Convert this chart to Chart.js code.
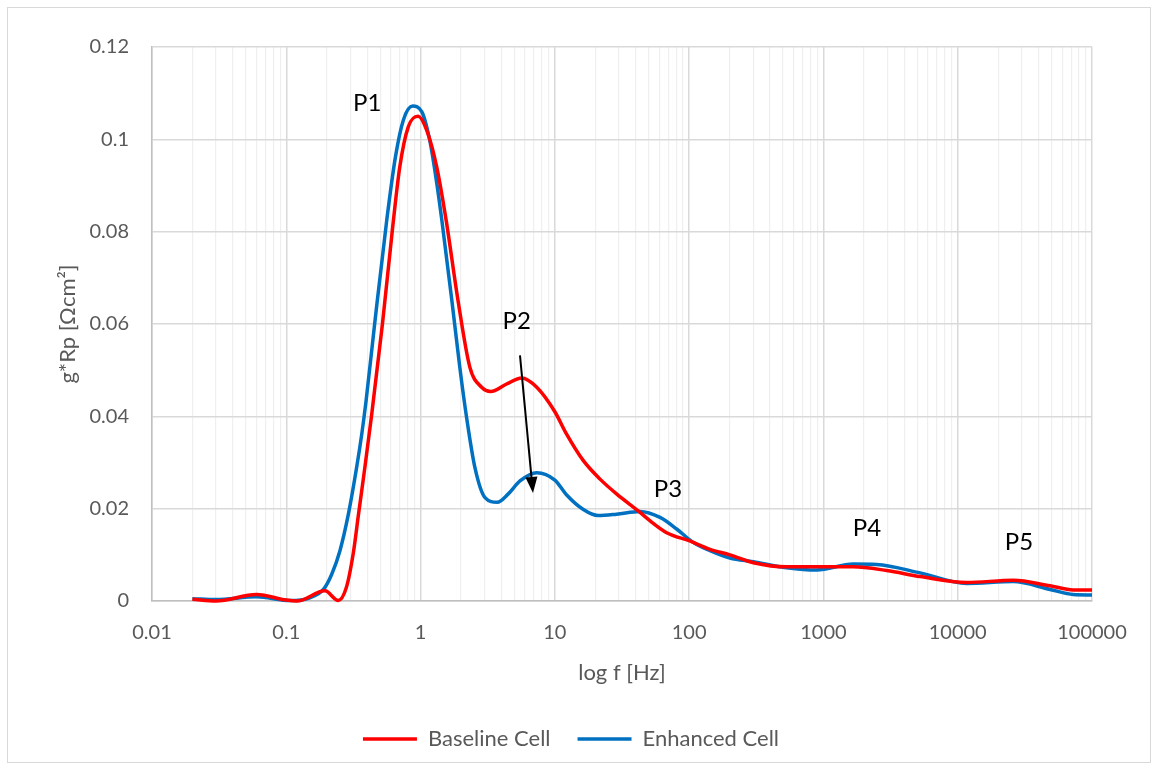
<!DOCTYPE html>
<html>
<head>
<meta charset="utf-8">
<script src="https://cdn.jsdelivr.net/npm/chart.js@4.4.0/dist/chart.umd.min.js"></script>
<style>
  html, body { margin: 0; padding: 0; background: #fff; }
  #wrap { position: relative; width: 1158px; height: 769px; }
  #frame { position: absolute; left: 7px; top: 7px; width: 1142px; height: 754px; border: 1px solid #d9d9d9; pointer-events: none; }
</style>
</head>
<body>
<div id="wrap">
  <canvas id="myChart" width="1158" height="769"></canvas>
  <div id="frame"></div>
</div>
<script>
// frequencies [Hz] and g*Rp values [Ohm cm2]
const baselineFreq = [0.02, 0.03, 0.06, 0.1, 0.12, 0.194, 0.244, 0.28, 0.316, 0.344, 0.385, 0.433, 0.52, 0.62, 0.70, 0.81, 0.96, 1.11, 1.32, 1.55, 1.9, 2.33, 2.85, 3.33, 4.37, 5.66, 7.33, 10, 12.2, 16.3, 21.7, 28.8, 41.8, 51, 68, 101, 143, 201, 301, 532, 1667, 2958, 5250, 11640, 25880, 48640, 72440, 100000]
const baseline = [0.0004, 0.0000, 0.0014, 0.0002, 0.0000, 0.0022, 0.0001, 0.0029, 0.0105, 0.0185, 0.0290, 0.0405, 0.0600, 0.0810, 0.0940, 0.1027, 0.1050, 0.1020, 0.0940, 0.0825, 0.0651, 0.0506, 0.0463, 0.0454, 0.0470, 0.0483, 0.0463, 0.0410, 0.0362, 0.0304, 0.0264, 0.0232, 0.0195, 0.0174, 0.0148, 0.0130, 0.0112, 0.0100, 0.0083, 0.0074, 0.0074, 0.0066, 0.0053, 0.0040, 0.0045, 0.0033, 0.0024, 0.0024]

const enhancedFreq = [0.02, 0.03, 0.06, 0.107, 0.15, 0.189, 0.218, 0.251, 0.29, 0.334, 0.365, 0.393, 0.455, 0.56, 0.65, 0.745, 0.873, 1.02, 1.17, 1.32, 1.44, 1.71, 1.96, 2.2, 2.54, 3.02, 3.72, 4.5, 5.5, 7.33, 10, 12.2, 16.3, 21, 28.8, 43, 60.7, 80.7, 107, 143, 201, 301, 532, 891, 1667, 2489, 5250, 11640, 25880, 48640, 72440, 100000]
const enhanced = [0.0005, 0.0003, 0.0009, 0.0001, 0.0007, 0.0025, 0.0058, 0.0109, 0.0188, 0.0289, 0.0362, 0.0434, 0.0600, 0.0825, 0.0962, 0.1042, 0.1072, 0.1060, 0.0998, 0.0905, 0.0825, 0.0651, 0.0506, 0.0398, 0.0289, 0.0224, 0.0214, 0.0232, 0.0260, 0.0278, 0.0262, 0.0230, 0.0198, 0.0185, 0.0188, 0.0194, 0.0181, 0.0156, 0.0127, 0.0109, 0.0093, 0.0085, 0.0072, 0.0067, 0.0080, 0.0079, 0.0061, 0.0038, 0.0042, 0.0025, 0.0014, 0.0013]

const decadeLabels = ['0.01', '0.1', '1', '10', '100', '1000', '10000', '100000']
const yTicks = [0, 0.02, 0.04, 0.06, 0.08, 0.1, 0.12]

// peak labels and the P2 arrow (data coords)
const peakNames = ['P1', 'P2', 'P3', 'P4', 'P5']
const peakFreq = [0.40, 5.2, 69.5, 2110, 28600]
const peakVal = [0.1078, 0.0605, 0.0243, 0.0158, 0.0128]
const arrowFrom = [5.5, 0.0532]
const arrowTo = [6.87, 0.0234]

const FONT = "Lato, 'Open Sans', sans-serif"

function isDecade(v){
  const l = Math.log10(v)
  return Math.abs(l - Math.round(l)) < 1e-9
}

const peakLabels = {
  id: 'peakLabels',
  afterDatasetsDraw(chart){
    const ctx = chart.ctx
    const x = chart.scales.x, y = chart.scales.y
    ctx.save()
    ctx.fillStyle = '#000'
    ctx.font = '24px ' + FONT
    ctx.textAlign = 'center'
    ctx.textBaseline = 'middle'
    peakNames.forEach((n, i) => {
      ctx.fillText(n, x.getPixelForValue(peakFreq[i]), y.getPixelForValue(peakVal[i]))
    })
    // arrow
    const x1 = x.getPixelForValue(arrowFrom[0]), y1 = y.getPixelForValue(arrowFrom[1])
    const x2 = x.getPixelForValue(arrowTo[0]), y2 = y.getPixelForValue(arrowTo[1])
    const ang = Math.atan2(y2 - y1, x2 - x1)
    const head = 16, half = 6
    const bx = x2 - head * Math.cos(ang), by = y2 - head * Math.sin(ang)
    ctx.strokeStyle = '#000'
    ctx.lineWidth = 2
    ctx.beginPath()
    ctx.moveTo(x1, y1)
    ctx.lineTo(bx, by)
    ctx.stroke()
    ctx.beginPath()
    ctx.moveTo(x2, y2)
    ctx.lineTo(bx + half * Math.sin(ang), by - half * Math.cos(ang))
    ctx.lineTo(bx - half * Math.sin(ang), by + half * Math.cos(ang))
    ctx.closePath()
    ctx.fill()
    ctx.restore()
  }
}

const toPoints = (fs, vs) => fs.map((f, i) => ({x: f, y: vs[i]}))

const ctx = document.getElementById('myChart').getContext('2d')
const myChart = new Chart(ctx, {
  type: 'line',
  data: {
    datasets: [
      {
        label: 'Baseline Cell',
        data: toPoints(baselineFreq, baseline),
        borderColor: '#ff0000',
        backgroundColor: '#ff0000',
        borderWidth: 3.5,
        pointRadius: 0,
        cubicInterpolationMode: 'monotone',
        clip: 6
      },
      {
        label: 'Enhanced Cell',
        data: toPoints(enhancedFreq, enhanced),
        borderColor: '#0070c0',
        backgroundColor: '#0070c0',
        borderWidth: 3.5,
        pointRadius: 0,
        cubicInterpolationMode: 'monotone',
        clip: 6
      }
    ]
  },
  options: {
    responsive: false,
    animation: false,
    layout: { padding: { left: 50, top: 47, right: 66, bottom: 9 } },
    scales: {
      x: {
        type: 'logarithmic',
        min: 0.01,
        max: 100000,
        afterBuildTicks(scale){
          const ticks = []
          for (let d = -2; d <= 5; d++){
            for (let m = 1; m <= 9; m++){
              if (d === 5 && m > 1) break
              ticks.push({value: Number((m * Math.pow(10, d)).toPrecision(6))})
            }
          }
          scale.ticks = ticks
        },
        afterFit(scale){ scale.height = 100 },
        ticks: {
          autoSkip: false,
          maxRotation: 0,
          color: '#595959',
          font: { family: FONT, size: 20 },
          padding: 20,
          callback(v){
            if (!isDecade(v)) return ''
            return decadeLabels[Math.round(Math.log10(v)) + 2]
          }
        },
        grid: {
          drawTicks: false,
          color: c => (c.tick && isDecade(c.tick.value)) ? '#d9d9d9' : '#efefef',
          lineWidth: c => (c.tick && isDecade(c.tick.value)) ? 1.5 : 1.2
        },
        border: { color: '#bfbfbf', width: 1.5 },
        title: {
          display: true,
          text: 'log f [Hz]',
          color: '#595959',
          font: { family: FONT, size: 22 },
          padding: { top: 0, bottom: 15 }
        }
      },
      y: {
        min: 0,
        max: 0.12,
        afterBuildTicks(scale){ scale.ticks = yTicks.map(v => ({value: v})) },
        afterFit(scale){ scale.width = 102 },
        ticks: {
          color: '#595959',
          font: { family: FONT, size: 20 },
          padding: 23,
          callback: v => String(Number(v.toFixed(2)))
        },
        grid: { drawTicks: false, color: '#d9d9d9', lineWidth: 1.5 },
        border: { color: '#bfbfbf', width: 1.5 },
        title: {
          display: true,
          text: 'g*Rp [Ωcm²]',
          color: '#595959',
          font: { family: FONT, size: 22 },
          padding: { top: 5, bottom: 0 }
        }
      }
    },
    plugins: {
      legend: {
        position: 'bottom',
        labels: {
          usePointStyle: true,
          pointStyle: 'line',
          pointStyleWidth: 54,
          padding: 27,
          color: '#595959',
          font: { family: FONT, size: 22 }
        }
      },
      tooltip: { enabled: false }
    }
  },
  plugins: [peakLabels]
})
</script>
</body>
</html>
